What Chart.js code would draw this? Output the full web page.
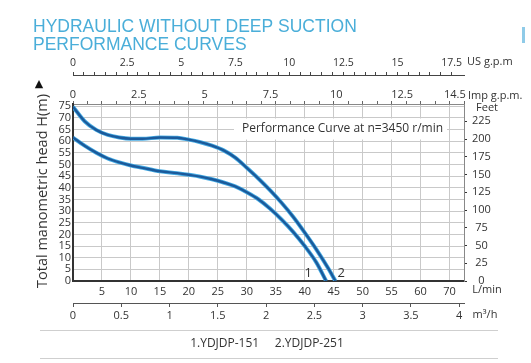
<!DOCTYPE html>
<html>
<head>
<meta charset="utf-8">
<script src="https://cdn.jsdelivr.net/npm/chart.js@4.4.1/dist/chart.umd.min.js"></script>
<style>
    html, body { margin: 0; padding: 0; background: #fff; }
    #wrap { position: relative; width: 531px; height: 363px; }
</style>
</head>
<body>
<div id="wrap"><canvas id="chart" width="531" height="363"></canvas></div>
<script>
// ==========================================
// Pump performance curves (flow L/min vs head m)
// ==========================================

// 2. YDJDP-251 (upper curve)
const flow2 = [0, 2, 4, 6, 8, 10, 12, 15, 18, 20, 22, 24, 26, 28, 30, 32, 34, 36, 38, 40, 42, 44, 45.3];
const head2 = [74.8, 68.6, 64.9, 62.7, 61.6, 61.1, 61.1, 61.6, 61.5, 60.7, 59.6, 58.1, 56.1, 53.0, 48.6, 44.0, 39.0, 33.6, 27.6, 20.8, 13.6, 5.7, 0];

// 1. YDJDP-151 (lower curve)
const flow1 = [0, 2, 4, 6, 8, 10, 12, 15, 18, 20, 22, 24, 26, 28, 30, 32, 34, 36, 38, 40, 42, 43.7];
const head1 = [61.6, 58.1, 55.1, 52.6, 50.9, 49.6, 48.6, 47.1, 46.3, 45.6, 44.8, 43.7, 42.3, 40.6, 38.1, 35.1, 31.1, 26.4, 21.1, 15.0, 8.0, 0];

// axis ticks
const lpmTicks = [0, 5, 10, 15, 20, 25, 30, 35, 40, 45, 50, 55, 60, 65];
const lpmLabels = ['', '5', '10', '15', '20', '25', '30', '35', '40', '45', '50', '55', '60', '70'];
const headTicks = [0, 5, 10, 15, 20, 25, 30, 35, 40, 45, 50, 55, 60, 65, 70, 75];
const feetTicks = [0, 25, 50, 75, 100, 125, 150, 175, 200, 225];
const impTicks = [0, 2.5, 5, 7.5, 10, 12.5, 14.5];
const usLabelTicks = [0, 2.5, 5, 7.5, 10, 12.5, 15, 17.5];
const m3hTicks = [0, 0.5, 1, 1.5, 2, 2.5, 3, 3.5, 4];
const legendNames = ['1.YDJDP-151', '2.YDJDP-251'];

const X_MAX = 67.5;     // L/min at right frame
const Y_MAX = 76;       // m at top frame
const FT_PER_M = 3.28084;
const L_PER_IMP = 4.546;
const L_PER_US = 3.735;
const L_PER_M3H = 16.667;

const FONT = "'Open Sans', 'DejaVu Sans', sans-serif";
const TXT = '#333';
const GRID = '#c9c9c9';
const CORE = '#1b5a9b';
const HALO = '#45abe3';

const toPoints = (xs, ys) => xs.map((x, i) => ({ x, y: ys[i] }));
const fixTicks = arr => scale => { scale.ticks = arr.map(v => ({ value: v })); };

const curveTags = [
    { text: '1', q: 40.6, h: 3.4 },
    { text: '2', q: 46.3, h: 3.4 }
];

// annotations, unit labels, title and footer
const textPlugin = {
    id: 'texts',
    beforeDatasetsDraw(chart) {
        const ctx = chart.ctx;
        ctx.save();
        ctx.font = '12px ' + FONT;
        const label = 'Performance Curve at n=3450 r/min';
        ctx.fillStyle = '#fff';
        ctx.fillRect(234, 118.5, 213, 21);
        ctx.fillStyle = TXT;
        ctx.textBaseline = 'middle';
        ctx.textAlign = 'left';
        ctx.fillText(label, 242, 129);
        ctx.restore();
    },
    afterDraw(chart) {
        const ctx = chart.ctx;
        const { x, y } = chart.scales;
        ctx.save();

        // title
        ctx.fillStyle = '#4aaed9';
        ctx.font = "17.5px 'Liberation Sans', Arial, sans-serif";
        ctx.textBaseline = 'alphabetic';
        ctx.textAlign = 'left';
        ctx.fillText('HYDRAULIC WITHOUT DEEP SUCTION', 33, 32);
        ctx.fillText('PERFORMANCE CURVES', 33, 50);

        // unit labels
        ctx.fillStyle = TXT;
        ctx.textBaseline = 'middle';
        ctx.font = '11px ' + FONT;
        ctx.fillText('US g.p.m', 467, 62);
        ctx.fillText('Imp g.p.m.', 468, 96);
        ctx.textAlign = 'center';
        ctx.fillText('Feet', 487, 108);
        ctx.fillText('L/min', 487, 290);
        ctx.fillText('m\u00b3/h', 485, 315);

        // curve numbers
        ctx.font = '13px ' + FONT;
        curveTags.forEach(t => {
            ctx.fillText(t.text, x.getPixelForValue(t.q), y.getPixelForValue(t.h));
        });

        // y title + arrow
        ctx.save();
        ctx.translate(43, 191);
        ctx.rotate(-Math.PI / 2);
        ctx.font = '14.5px ' + FONT;
        ctx.fillText('Total manometric head H(m)', 0, 0);
        ctx.restore();
        ctx.font = "11px 'DejaVu Sans', sans-serif";
        ctx.fillStyle = '#111';
        ctx.fillText('\u25b2', 39, 84);

        // footer
        ctx.strokeStyle = '#cfcfcf';
        ctx.lineWidth = 1;
        ctx.beginPath();
        ctx.moveTo(40, 330.5); ctx.lineTo(498, 330.5);
        ctx.moveTo(40, 358.5); ctx.lineTo(498, 358.5);
        ctx.stroke();
        ctx.fillStyle = TXT;
        ctx.font = '12px ' + FONT;
        ctx.fillText(legendNames.join('     '), 267, 344);

        // page edge mark
        ctx.fillStyle = '#8fcbe8';
        ctx.fillRect(522, 27, 3, 16);
        ctx.restore();
    }
};

const tickFont = { family: FONT, size: 11 };

new Chart(document.getElementById('chart'), {
    type: 'line',
    data: {
        datasets: [
            { data: toPoints(flow1, head1), borderColor: CORE, borderWidth: 2.4, order: 1 },
            { data: toPoints(flow2, head2), borderColor: CORE, borderWidth: 2.4, order: 1 },
            { data: toPoints(flow1, head1), borderColor: HALO, borderWidth: 4, order: 2 },
            { data: toPoints(flow2, head2), borderColor: HALO, borderWidth: 4, order: 2 }
        ]
    },
    options: {
        responsive: false,
        animation: false,
        elements: {
            point: { radius: 0 },
            line: { cubicInterpolationMode: 'monotone', fill: false }
        },
        layout: { padding: { top: 55, bottom: 43, left: 0, right: 0 } },
        plugins: { legend: { display: false }, tooltip: { enabled: false } },
        scales: {
            x: {
                type: 'linear', position: 'bottom', min: 0, max: X_MAX, weight: 0,
                afterBuildTicks: fixTicks(lpmTicks),
                afterFit: s => { s.height = 22; },
                grid: { color: GRID, drawTicks: false },
                border: { color: '#333', width: 2 },
                ticks: {
                    color: TXT, font: tickFont, padding: 4, autoSkip: false, maxRotation: 0,
                    callback: (v, i) => lpmLabels[i]
                }
            },
            m3h: {
                type: 'linear', position: 'bottom', min: 0, max: X_MAX / L_PER_M3H, weight: 1,
                afterBuildTicks: fixTicks(m3hTicks),
                afterFit: s => { s.height = 17; },
                grid: { drawOnChartArea: false, tickLength: 4, color: '#555' },
                border: { color: '#555', width: 1 },
                ticks: {
                    color: TXT, font: tickFont, padding: 2, autoSkip: false, maxRotation: 0,
                    callback: v => String(v)
                }
            },
            xt: {
                type: 'linear', position: 'top', min: 0, max: X_MAX, weight: 0,
                afterFit: s => { s.height = 3; },
                grid: { drawOnChartArea: false, tickLength: 3, color: '#666' },
                border: { color: '#888', width: 1 },
                ticks: { display: false, stepSize: 2.5 }
            },
            imp: {
                type: 'linear', position: 'top', min: 0, max: X_MAX / L_PER_IMP, weight: 1,
                afterBuildTicks: fixTicks(impTicks),
                afterFit: s => { s.height = 26; },
                grid: { display: false, drawTicks: false },
                border: { display: false },
                ticks: {
                    color: TXT, font: tickFont, padding: 0, autoSkip: false, maxRotation: 0,
                    callback: v => String(v)
                }
            },
            us: {
                type: 'linear', position: 'top', min: 0, max: X_MAX / L_PER_US, weight: 2,
                afterBuildTicks: s => { s.ticks = s.ticks.filter(t => t.value <= 17.5); },
                afterFit: s => { s.height = 20; },
                grid: { drawOnChartArea: false, tickLength: 3, color: '#444' },
                border: { color: '#444', width: 1 },
                ticks: {
                    stepSize: 0.5, color: TXT, font: { family: FONT, size: 10.5 }, padding: 3,
                    autoSkip: false, maxRotation: 0,
                    callback: v => usLabelTicks.includes(v) ? String(v) : ''
                }
            },
            y: {
                type: 'linear', position: 'left', min: 0, max: Y_MAX,
                afterBuildTicks: fixTicks(headTicks),
                afterFit: s => { s.width = 73; },
                grid: { color: GRID, drawTicks: false },
                border: { color: '#333', width: 2 },
                ticks: { color: TXT, font: tickFont, padding: 2, autoSkip: false }
            },
            yFt: {
                type: 'linear', position: 'right', min: 0, max: Y_MAX * FT_PER_M,
                afterBuildTicks: fixTicks(feetTicks),
                afterFit: s => { s.width = 67; },
                grid: { drawOnChartArea: false, tickLength: 3, color: '#333' },
                border: { color: '#888', width: 1 },
                ticks: { color: TXT, font: tickFont, padding: 5, crossAlign: 'center', autoSkip: false }
            }
        }
    },
    plugins: [textPlugin]
});
</script>
</body>
</html>
